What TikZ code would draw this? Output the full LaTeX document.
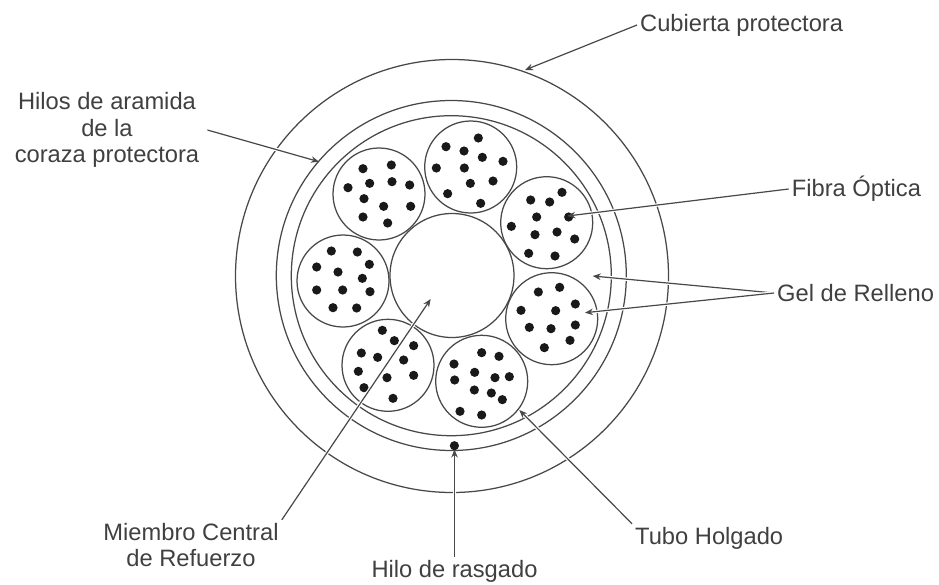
\documentclass[tikz,border=0pt]{standalone}
\usepackage{fontspec}
\setmainfont{Liberation Sans}
\usetikzlibrary{arrows.meta}
\definecolor{ink}{HTML}{484848}
\definecolor{txt}{HTML}{404040}
\tikzset{
  ring/.style={circle,draw=ink,line width=1.25pt,inner sep=0pt,fill=none},
  tube/.style={circle,draw=ink,line width=1.25pt,inner sep=0pt,minimum size=92pt},
  fibre/.style={circle,fill=black!90,inner sep=0pt,minimum size=9.2pt},
  lbl/.style={text=txt,inner sep=3pt,align=center,font=\fontsize{23.7}{26.5}\selectfont},
  pointer/.style={draw=ink,line width=1.2pt,-{Stealth[length=8pt,width=6.5pt]},
    preaction={draw=white,line width=3.4pt,-,shorten >=7pt}}
}
\newcommand{\fibres}[2]{\foreach \zx/\zy in {#2} {\node[fibre] at ({280+\zx/3},{#1+\zy/3}) {};}}
\begin{document}
\begin{tikzpicture}[x=1pt,y=-1pt]
\useasboundingbox (0,0) rectangle (939,584);
\fill[white] (0,0) rectangle (939,584);
% rings
\node[ring,minimum size=433pt] (jacket) at (452,276) {};
\node[ring,minimum size=350pt] (armour) at (451.3,275.5) {};
\node[ring,minimum size=320pt] (inner) at (451.3,275.7) {};
\node[ring,minimum size=124pt] (core) at (452,275.5) {};
% tubes
\node[tube] (tubeA) at (379,194) {};
\node[tube] (tubeB) at (470.7,167) {};
\node[tube] (tubeC) at (546.7,222.7) {};
\node[tube] (tubeD) at (551.7,318.7) {};
\node[tube] (tubeE) at (481.7,381.3) {};
\node[tube] (tubeF) at (388,365.3) {};
\node[tube] (tubeG) at (343,281) {};
% fibres
\fibres{100}{249/206,334/195,204/263,269/250,336/245,389/255,252/296,311/319,392/319,249/351,323/369}
\fibres{100}{595/114,498/140,552/153,607/172,669/184,469/204,553/204,571/250,639/243,503/281,602/310}
\fibres{100}{846/277,752/300,809/306,770/351,866/351,694/379,765/404,831/396,884/417,746/460,825/468}
\fibres{100}{154/453,232/456,110/501,174/516,268/493,247/535}
\fibres{270}{110/60,188/60,270/65,159/113,230/114}
\fibres{270}{775/66,839/52,886/102,723/121,827/122,748/172,813/176,886/165,870/211,793/233}
\fibres{270}{605/248,657/259,522/282,524/330,584/307,645/323,688/320,583/360,634/369,667/389,540/424,605/435}
\fibres{270}{307/181,343/212,401/227,244/249,293/262,371/270,235/304,321/323,401/316,252/353,339/385}
\node[fibre] (rip) at (454.4,445.7) {};
% labels
\node[lbl,anchor=west] (lcub) at (637,25) {Cubierta protectora};
\node[lbl,anchor=center] (lhil) at (107,130) {Hilos de aramida\\de la\\coraza protectora};
\node[lbl,anchor=west] (lfib) at (788.7,189) {Fibra Óptica};
\node[lbl,anchor=west] (lgel) at (774,293) {Gel de Relleno};
\node[lbl,anchor=center] (lmie) at (191,545) {Miembro Central\\de Refuerzo};
\node[lbl,anchor=center] (lras) at (454.5,571) {Hilo de rasgado};
\node[lbl,anchor=west] (ltub) at (632,538) {Tubo Holgado};
% pointer tips
\coordinate (tcub) at (525,70);
\coordinate (thil) at (319,161.7);
\coordinate (tfib) at (567.3,216);
\coordinate (tgela) at (592.7,276);
\coordinate (tgelb) at (585,312.7);
\coordinate (tmie) at (430.7,299);
\coordinate (tras) at (454.5,449.5);
\coordinate (ttub) at (519.3,410);
% pointers
\draw[pointer] (lcub.west) -- (tcub);
\draw[pointer] ([xshift=5pt]lhil.east) -- (thil);
\draw[pointer] (lfib.west) -- (tfib);
\draw[pointer] (lgel.west) -- (tgela);
\draw[pointer] (lgel.west) -- (tgelb);
\draw[pointer] (lmie.north east) -- (tmie);
\draw[pointer] (lras.north) -- (tras);
\draw[pointer] (ltub.north west) -- (ttub);
\end{tikzpicture}
\end{document}
